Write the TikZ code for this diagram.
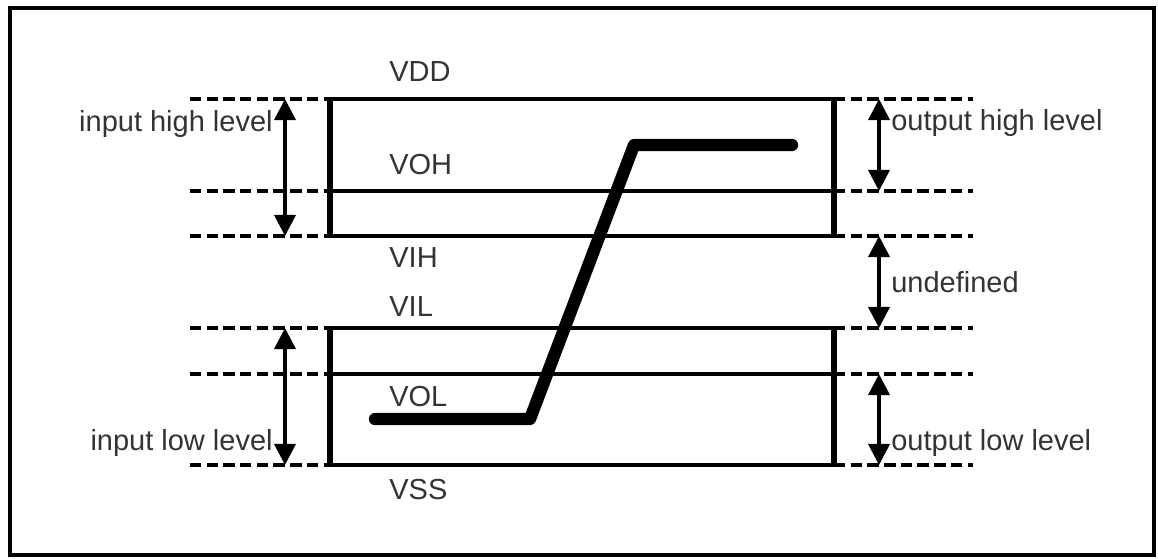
\documentclass[tikz,border=0pt]{standalone}
\usepackage{fontspec}
\setmainfont{Liberation Sans}
\usetikzlibrary{arrows.meta}
\definecolor{labelgray}{HTML}{333333}
\tikzset{
    level/.style={line width=2pt},
    guide/.style={line width=2.3pt, dash pattern=on 6.5pt off 3pt},
    side/.style={line width=3pt},
    span/.style={line width=2pt, {Triangle[length=12pt,width=12pt]}-{Triangle[length=12pt,width=12pt]}},
    lbl/.style={text=labelgray, font=\fontsize{16.5}{19}\selectfont, inner sep=0pt},
    signal/.style={line width=7pt, line cap=round, line join=round}
}
\begin{document}
\begin{tikzpicture}[x=0.02cm, y=-0.02cm]
    \useasboundingbox (0,0) rectangle (1158,558);
    \draw[line width=2.3pt] (10,8) rectangle (1154,555);
    % voltage levels
    \coordinate (vdd) at (0,99);
    \coordinate (voh) at (0,191);
    \coordinate (vih) at (0,236);
    \coordinate (vil) at (0,328);
    \coordinate (vol) at (0,374);
    \coordinate (vss) at (0,465);
    \coordinate (boxl) at (330,0);
    \coordinate (boxr) at (834,0);
    \coordinate (inx) at (285,0);
    \coordinate (outx) at (879,0);
    \foreach \v in {vdd,voh,vih,vil,vol,vss} {
        \draw[guide] (190,0 |- \v) -- (boxl |- \v);
        \draw[guide] (boxr |- \v) -- (973,0 |- \v);
        \draw[level] (boxl |- \v) -- (boxr |- \v);
    }
    \draw[side] (boxl |- vdd) -- (boxl |- vih);
    \draw[side] (boxr |- vdd) -- (boxr |- vih);
    \draw[side] (boxl |- vil) -- (boxl |- vss);
    \draw[side] (boxr |- vil) -- (boxr |- vss);
    % ranges
    \draw[span] (inx |- vdd) -- (inx |- vih);
    \draw[span] (inx |- vil) -- (inx |- vss);
    \draw[span] (outx |- vdd) -- (outx |- voh);
    \draw[span] (outx |- vih) -- (outx |- vil);
    \draw[span] (outx |- vol) -- (outx |- vss);
    % labels
    \node[lbl, anchor=east] (inhigh) at (273,124) {input high level};
    \node[lbl, anchor=east] (inlow) at (273,443) {input low level};
    \node[lbl, anchor=west] (outhigh) at (891,123) {output high level};
    \node[lbl, anchor=west] (undef) at (891,282) {undefined};
    \node[lbl, anchor=west] (outlow) at (891,443) {output low level};
    \node[lbl, anchor=west] (tvdd) at (389,72) {VDD};
    \node[lbl, anchor=west] (tvoh) at (389,165) {VOH};
    \node[lbl, anchor=west] (tvih) at (389,258) {VIH};
    \node[lbl, anchor=west] (tvil) at (389,307) {VIL};
    \node[lbl, anchor=west] (tvol) at (389,397) {VOL};
    \node[lbl, anchor=west] (tvss) at (389,490) {VSS};
    % output signal
    \draw[signal] (375,419) -- (530,419) -- (634,145) -- (792,145);
\end{tikzpicture}
\end{document}
